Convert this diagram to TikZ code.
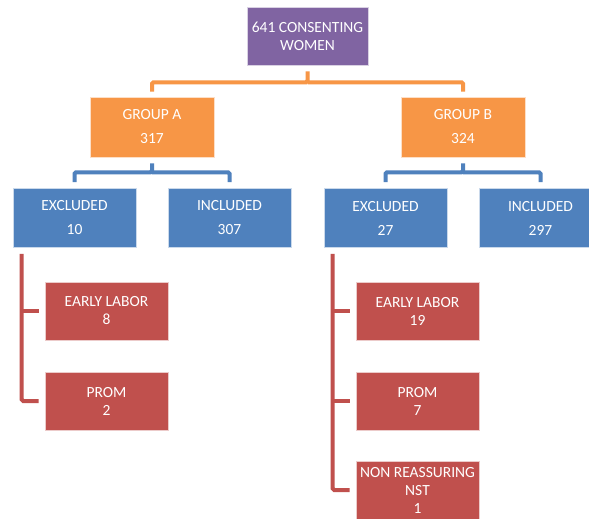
\documentclass[tikz,border=0pt]{standalone}
\usepackage{fontspec}
\setmainfont{Carlito}
\definecolor{cpurple}{HTML}{8064A2}
\definecolor{corange}{HTML}{F79646}
\definecolor{cblue}{HTML}{4F81BD}
\definecolor{cred}{HTML}{C0504D}
\begin{document}
\begin{tikzpicture}[x=1pt,y=-1pt,
  box/.style={rectangle,inner sep=0pt,minimum width=123pt,minimum height=58pt,
    text=white,align=center,draw=white!70!#1,line width=0.6pt,fill=#1,
    font=\fontsize{15.5}{18}\selectfont},
  wide/.style={font=\fontsize{15.5}{24}\selectfont},
  conn/.style={draw=#1,line width=4pt,rounded corners=1.5pt}]
\clip (0,0) rectangle (589,519);
\fill[white] (0,0) rectangle (589,519);
\node[box=cpurple,minimum width=121pt] (top) at (307.5,36) {641 CONSENTING\\WOMEN};
\node[box=corange,wide,minimum width=124pt,minimum height=60pt] (ga) at (152,127) {GROUP A\\317};
\node[box=corange,wide,minimum width=124pt,minimum height=60pt] (gb) at (463,127) {GROUP B\\324};
\node[box=cblue,wide,minimum height=59pt] (exa) at (74.5,218) {EXCLUDED\\10};
\node[box=cblue,wide,minimum height=59pt] (ina) at (229.5,218) {INCLUDED\\307};
\node[box=cblue,wide,minimum height=59pt] (exb) at (385.5,218) {EXCLUDED\\27};
\node[box=cblue,wide,minimum height=59pt] (inb) at (540.5,218) {INCLUDED\\297};
\node[box=cred] (ela) at (106.5,311) {EARLY LABOR\\8};
\node[box=cred] (pra) at (106.5,401) {PROM\\2};
\node[box=cred] (elb) at (417.5,311) {EARLY LABOR\\19};
\node[box=cred] (prb) at (417.5,401) {PROM\\7};
\node[box=cred] (nrb) at (417.5,490) {NON REASSURING\\NST\\1};
% orange
\draw[conn=corange] ([yshift=-6pt]top.south) -- ([yshift=-17pt]top.south) -| ([yshift=5pt]ga.north);
\draw[conn=corange] ([yshift=-17pt]top.south) -| ([yshift=5pt]gb.north);
% blue
\draw[conn=cblue] ([yshift=-6pt]ga.south) -- ([yshift=-15pt]ga.south) -| ([yshift=6pt]exa.north);
\draw[conn=cblue] ([yshift=-15pt]ga.south) -| ([yshift=6pt]ina.north);
\draw[conn=cblue] ([yshift=-6pt]gb.south) -- ([yshift=-15pt]gb.south) -| ([yshift=6pt]exb.north);
\draw[conn=cblue] ([yshift=-15pt]gb.south) -| ([yshift=6pt]inb.north);
% red
\draw[conn=cred] ([shift={(9pt,-6pt)}]exa.south west) |- ([xshift=-6pt]pra.west);
\draw[conn=cred] ([xshift=-23pt]ela.west) -- ([xshift=-6pt]ela.west);
\draw[conn=cred] ([shift={(9pt,-6pt)}]exb.south west) |- ([xshift=-6pt]nrb.west);
\draw[conn=cred] ([xshift=-23pt]elb.west) -- ([xshift=-6pt]elb.west);
\draw[conn=cred] ([xshift=-23pt]prb.west) -- ([xshift=-6pt]prb.west);
\end{tikzpicture}
\end{document}
